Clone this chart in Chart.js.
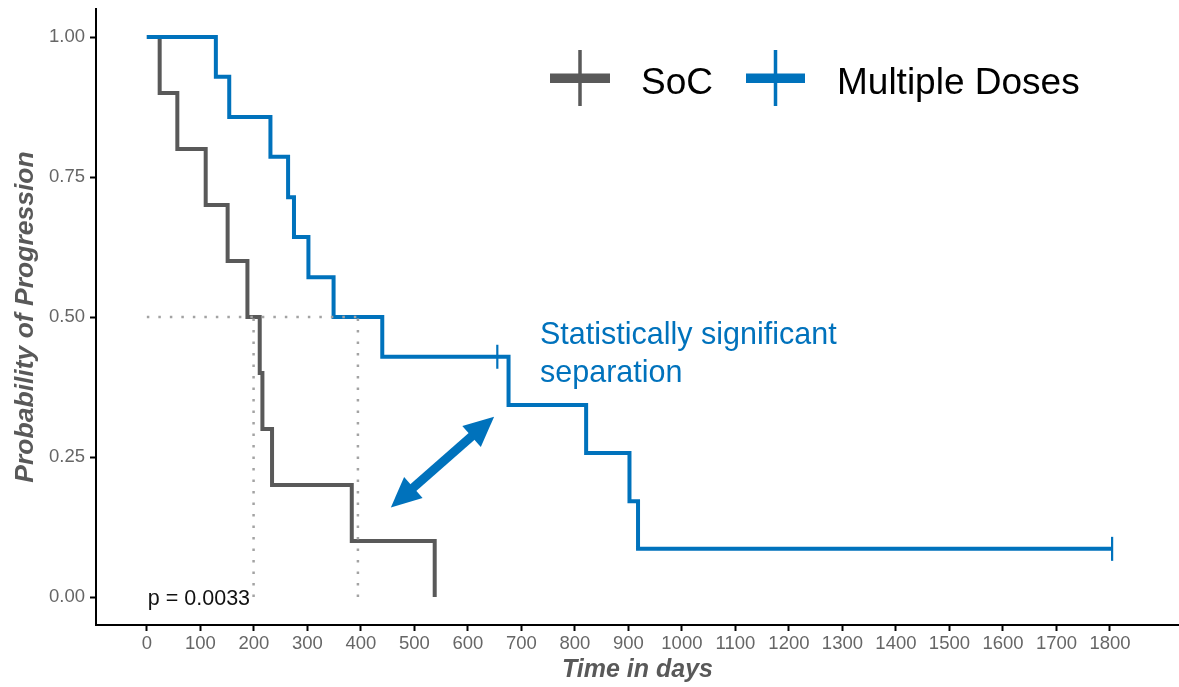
<!DOCTYPE html>
<html>
<head>
<meta charset="utf-8">
<script src="https://cdn.jsdelivr.net/npm/chart.js@4.4.1/dist/chart.umd.min.js"></script>
<style>
  html, body { margin: 0; padding: 0; background: #fff; }
  #chart { display: block; }
</style>
</head>
<body>
<canvas id="chart" width="1179" height="687"></canvas>
<script>
// datos (Kaplan-Meier)
const socTime = [0, 24, 57, 110, 151, 188, 211, 216, 234, 383, 538];
const socSurv = [1, 0.9, 0.8, 0.7, 0.6, 0.5, 0.4, 0.3, 0.2, 0.1, 0.0];

const mdTime = [0, 129, 154, 231, 264, 275, 302, 349, 440, 676, 821, 902, 918, 1804];
const mdSurv = [1, 0.929, 0.857, 0.786, 0.714, 0.643, 0.571, 0.5, 0.429, 0.343, 0.257, 0.171, 0.086, 0.086];

const mdCensorTime = [655, 1804];
const mdCensorSurv = [0.429, 0.086];

const medianTimes = [199.5, 394.5];
const medianLevel = 0.5;

const xTicks = [0, 100, 200, 300, 400, 500, 600, 700, 800, 900, 1000, 1100, 1200, 1300, 1400, 1500, 1600, 1700, 1800];
const yTicks = [0, 0.25, 0.5, 0.75, 1];

const seriesNames = ['SoC', 'Multiple Doses'];
const pValueText = 'p = 0.0033';
const noteLines = ['Statistically significant', 'separation'];
const arrowFrom = [456, 0.16];
const arrowTo = [649, 0.322];

const GRAY = '#595959';
const BLUE = '#0072bc';
const FONT = "'Liberation Sans', Arial, sans-serif";

function toPoints(xs, ys) {
    return xs.map((x, i) => ({ x: x, y: ys[i] }));
}

// lineas de la mediana
const medianDatasets = [{
    data: [{ x: 0, y: medianLevel }, { x: Math.max(...medianTimes), y: medianLevel }]
}].concat(medianTimes.map(m => ({
    data: [{ x: m, y: 0 }, { x: m, y: medianLevel }]
}))).map(d => Object.assign(d, {
    showLine: true,
    borderColor: '#a3a3a3',
    borderWidth: 2.5,
    borderDash: [2.5, 9],
    pointRadius: 0,
    order: 0
}));

// leyenda, p-valor, nota y flecha
const extras = {
    id: 'extras',
    afterDatasetsDraw(chart) {
        const ctx = chart.ctx;
        const xs = chart.scales.x, ys = chart.scales.y;
        ctx.save();

        // leyenda
        const items = [
            { color: GRAY, x0: 550, x1: 610, text: seriesNames[0], tx: 641 },
            { color: BLUE, x0: 746, x1: 805, text: seriesNames[1], tx: 837 }
        ];
        items.forEach(it => {
            ctx.fillStyle = it.color;
            ctx.fillRect(it.x0, 73.5, it.x1 - it.x0, 9.5);
            ctx.fillRect((it.x0 + it.x1) / 2 - 1.75, 50, 3.5, 56);
            ctx.fillStyle = '#000';
            ctx.font = '37px ' + FONT;
            ctx.textBaseline = 'alphabetic';
            ctx.textAlign = 'left';
            ctx.fillText(it.text, it.tx, 94);
        });

        // p-valor
        ctx.fillStyle = '#111';
        ctx.font = '21.5px ' + FONT;
        ctx.fillText(pValueText, xs.getPixelForValue(0) + 1, 605);

        // nota
        ctx.fillStyle = BLUE;
        ctx.font = '30.5px ' + FONT;
        ctx.fillText(noteLines[0], 540, 344);
        ctx.fillText(noteLines[1], 540, 382);

        // flecha doble
        const ax = xs.getPixelForValue(arrowFrom[0]), ay = ys.getPixelForValue(arrowFrom[1]);
        const bx = xs.getPixelForValue(arrowTo[0]), by = ys.getPixelForValue(arrowTo[1]);
        const ang = Math.atan2(by - ay, bx - ax);
        const headLen = 30, headHalf = 14;
        const ux = Math.cos(ang), uy = Math.sin(ang);
        ctx.strokeStyle = BLUE;
        ctx.lineWidth = 9;
        ctx.beginPath();
        ctx.moveTo(ax + ux * (headLen - 2), ay + uy * (headLen - 2));
        ctx.lineTo(bx - ux * (headLen - 2), by - uy * (headLen - 2));
        ctx.stroke();
        ctx.fillStyle = BLUE;
        [[bx, by, 1], [ax, ay, -1]].forEach(([px, py, s]) => {
            const cx = px - s * ux * headLen, cy = py - s * uy * headLen;
            ctx.beginPath();
            ctx.moveTo(px, py);
            ctx.lineTo(cx - uy * headHalf, cy + ux * headHalf);
            ctx.lineTo(cx + uy * headHalf, cy - ux * headHalf);
            ctx.closePath();
            ctx.fill();
        });

        ctx.restore();
    }
};

const ctx = document.getElementById('chart');

const chart = new Chart(ctx, {
    type: 'scatter',
    data: {
        datasets: [{
            label: seriesNames[1],
            data: toPoints(mdTime, mdSurv),
            showLine: true,
            stepped: 'before',
            borderColor: BLUE,
            borderWidth: 4,
            pointRadius: 0,
            order: 1
        }, {
            label: seriesNames[0],
            data: toPoints(socTime, socSurv),
            showLine: true,
            stepped: 'before',
            borderColor: GRAY,
            borderWidth: 4,
            pointRadius: 0,
            order: 2
        }, {
            label: 'censor',
            data: toPoints(mdCensorTime, mdCensorSurv),
            showLine: false,
            pointStyle: 'line',
            rotation: 90,
            pointRadius: 12,
            borderWidth: 2.2,
            borderColor: BLUE,
            order: 1
        }].concat(medianDatasets)
    },
    options: {
        responsive: false,
        devicePixelRatio: 1,
        animation: false,
        layout: { autoPadding: false, padding: { top: 9, right: 0, left: 0, bottom: 0 } },
        plugins: {
            legend: { display: false },
            tooltip: { enabled: false }
        },
        scales: {
            x: {
                type: 'linear',
                min: -95,
                max: 1929,
                afterFit: s => {
                    s.height = 62;
                    s.paddingLeft = 0; s.paddingRight = 0;
                },
                afterBuildTicks: s => { s.ticks = xTicks.map(v => ({ value: v })); },
                grid: { drawOnChartArea: false, drawTicks: true, tickLength: 6, tickColor: '#000', tickWidth: 2 },
                border: { display: true, color: '#000', width: 2 },
                ticks: {
                    color: '#666',
                    font: { family: FONT, size: 18.5 },
                    padding: 2,
                    maxRotation: 0,
                    autoSkip: false,
                    callback: v => String(v)
                },
                title: {
                    display: true,
                    text: 'Time in days',
                    color: GRAY,
                    font: { family: FONT, size: 25, weight: 'bold', style: 'italic' },
                    padding: { top: 0, bottom: 2 }
                }
            },
            y: {
                type: 'linear',
                min: -0.05,
                max: 1.05,
                afterFit: s => {
                    s.width = 96;
                    s.paddingTop = 0; s.paddingBottom = 0;
                },
                afterBuildTicks: s => { s.ticks = yTicks.map(v => ({ value: v })); },
                grid: { drawOnChartArea: false, drawTicks: true, tickLength: 6, tickColor: '#000', tickWidth: 2 },
                border: { display: true, color: '#000', width: 2 },
                ticks: {
                    color: '#666',
                    font: { family: FONT, size: 18.5 },
                    padding: 5,
                    callback: v => v.toFixed(2)
                },
                title: {
                    display: true,
                    text: 'Probability of Progression',
                    color: GRAY,
                    font: { family: FONT, size: 26.5, weight: 'bold', style: 'italic' },
                    padding: { top: 10, bottom: 0 }
                }
            }
        }
    },
    plugins: [extras]
});
</script>
</body>
</html>
